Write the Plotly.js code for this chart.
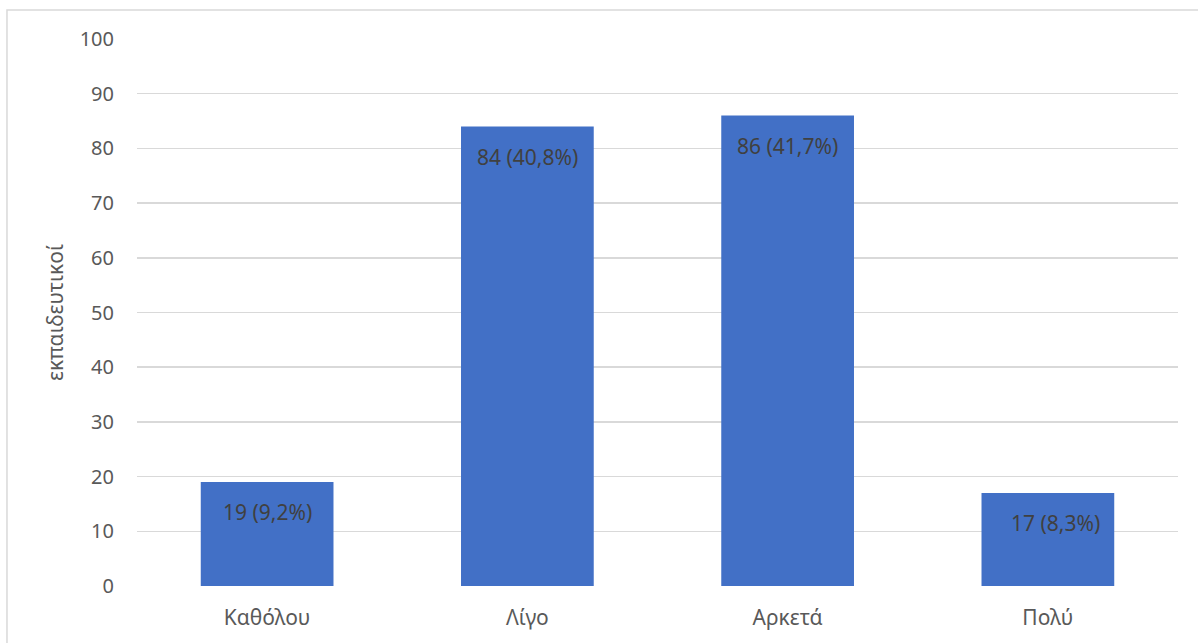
<!DOCTYPE html>
<html>
<head>
<meta charset="utf-8">
<script src="https://cdn.plot.ly/plotly-3.0.1.min.js"></script>
<style>html,body{margin:0;padding:0;background:#fff;}#chart{width:1198px;height:643px;}</style>
</head>
<body>
<div id="chart"></div>
<script>
const categories = ["Καθόλου", "Λίγο", "Αρκετά", "Πολύ"];
const counts = [19, 84, 86, 17];
const percents = ["9,2%", "40,8%", "41,7%", "8,3%"];
const yTicks = [0, 10, 20, 30, 40, 50, 60, 70, 80, 90, 100];
const yTitle = "εκπαιδευτικοί";

const labels = counts.map((c, i) => c + " (" + percents[i] + ")");
const FONT = "Noto Sans, sans-serif";

const trace = {
  type: "bar",
  x: categories,
  y: counts,
  marker: { color: "#4270c6", line: { width: 0 } },
  hoverinfo: "x+y"
};

const annotations = categories.map((c, i) => ({
  x: c, y: counts[i], xref: "x", yref: "y",
  text: labels[i], showarrow: false,
  yshift: -30, xshift: i === 3 ? 8 : 0,
  font: { family: FONT, size: 21, color: "#404040" }
}));

const layout = {
  width: 1198, height: 643,
  margin: { l: 137, r: 20, t: 39, b: 57, pad: 0 },
  paper_bgcolor: "#ffffff",
  plot_bgcolor: "#ffffff",
  showlegend: false,
  bargap: 0.49,
  font: { family: FONT, color: "#595959", size: 20 },
  xaxis: {
    type: "category",
    showgrid: false, zeroline: false, showline: false,
    ticks: "", ticklabelstandoff: 17,
    tickfont: { family: FONT, size: 21, color: "#595959" }
  },
  yaxis: {
    range: [0, 100],
    tickvals: yTicks,
    ticktext: yTicks.map(String),
    showgrid: true, gridcolor: "#d9d9d9", gridwidth: 1.5,
    zeroline: false, showline: false, ticks: "",
    ticklabelstandoff: 22,
    tickfont: { family: FONT, size: 20, color: "#595959" },
    title: { text: yTitle, standoff: 10, font: { family: FONT, size: 21, color: "#595959" } }
  },
  annotations: annotations,
  shapes: [{
    type: "rect", xref: "paper", yref: "paper",
    x0: -0.1249, x1: 1.1, y0: -0.2, y1: 1.053,
    line: { color: "#d9d9d9", width: 1.5 }, fillcolor: "rgba(0,0,0,0)", layer: "below"
  }]
};

Plotly.newPlot("chart", [trace], layout, { displayModeBar: false, staticPlot: true });
</script>
</body>
</html>
